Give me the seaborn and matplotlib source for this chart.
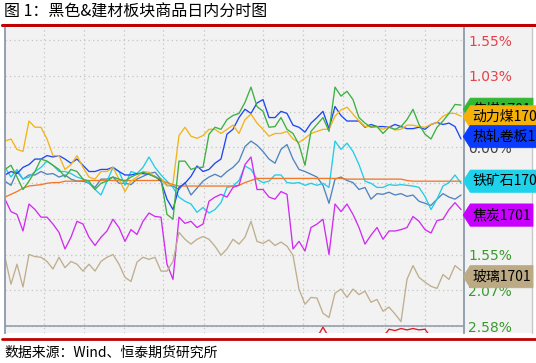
import matplotlib
matplotlib.use("Agg")
import numpy as np
import pandas as pd
import matplotlib.pyplot as plt
import seaborn as sns
from matplotlib.path import Path
from matplotlib.patches import Rectangle
from matplotlib.lines import Line2D

sns.set_style("white")
plt.rcParams['font.family'] = ['Noto Sans CJK SC', 'DejaVu Sans']

# intraday change in %, sampled at even time steps across the session
jiaomei = [-0.32, -0.26, -0.43, -0.61, -0.49, -0.35, -0.17, -0.20, -0.26, -0.32, -0.43,
           -0.32, -0.35, -0.46, -0.49, -0.61, -0.52, -0.49, -0.43, -0.46, -0.49, -0.43,
           -0.39, -0.36, -0.39, -0.43, -0.46, -0.97, -1.04, -0.20, -0.20, -0.32, -0.29,
           -0.29, 0.19, 0.29, 0.26, 0.40, 0.46, 0.49, 0.65, 0.87, 0.59, 0.52,
           0.29, 0.30, 0.43, 0.26, 0.20, 0.04, -0.26, 0.23, 0.33, 0.43, 0.23,
           0.87, 0.74, 0.81, 0.69, 0.43, 0.35, 0.29, 0.30, 0.20, 0.29, 0.26,
           0.30, 0.40, 0.55, 0.33, 0.19, 0.12, 0.29, 0.38, 0.49, 0.62, 0.61]
donglimei = [0.09, 0.12, -0.03, -0.06, 0.38, 0.29, 0.29, 0.12, -0.12, -0.12, -0.32,
             -0.25, -0.12, -0.29, -0.43, -0.46, -0.35, -0.35, -0.29, -0.46, -0.64, -0.49,
             -0.43, -0.35, -0.36, -0.43, -0.46, -0.56, -0.52, 0.17, 0.29, 0.16, 0.13,
             0.17, 0.26, 0.26, 0.20, 0.26, 0.32, 0.20, 0.40, 0.48, 0.35, 0.26,
             0.16, 0.20, 0.20, 0.23, 0.12, 0.07, 0.13, 0.20, 0.23, 0.26, 0.26,
             0.45, 0.54, 0.58, 0.48, 0.38, 0.30, 0.30, 0.30, 0.26, 0.30, 0.25,
             0.26, 0.32, 0.32, 0.30, 0.29, 0.33, 0.36, 0.45, 0.49, 0.49, 0.45]
rezha = [-0.40, -0.35, -0.38, -0.29, -0.25, -0.17, -0.17, -0.12, -0.14, -0.12, -0.17,
         -0.23, -0.17, -0.26, -0.35, -0.35, -0.32, -0.32, -0.29, -0.35, -0.40, -0.40,
         -0.38, -0.38, -0.39, -0.42, -0.49, -0.75, -0.90, -0.58, -0.52, -0.42, -0.27,
         -0.35, -0.32, -0.23, -0.17, 0.19, 0.26, 0.43, 0.55, 0.49, 0.64, 0.69,
         0.43, 0.43, 0.52, 0.49, 0.32, 0.29, 0.22, 0.35, 0.43, 0.52, 0.27,
         0.59, 0.46, 0.38, 0.38, 0.38, 0.29, 0.33, 0.30, 0.30, 0.29, 0.33,
         0.30, 0.27, 0.27, 0.29, 0.26, 0.33, 0.36, 0.33, 0.35, 0.30, 0.12]
tiekuang = [-0.29, -0.43, -0.32, -0.46, -0.43, -0.35, -0.29, -0.20, -0.26, -0.35, -0.35,
            -0.38, -0.43, -0.46, -0.52, -0.61, -0.69, -0.49, -0.29, -0.35, -0.55, -0.35,
            -0.38, -0.29, -0.14, -0.29, -0.40, -0.49, -0.58, -0.72, -0.78, -0.82, -0.94,
            -0.87, -0.95, -0.90, -0.80, -0.58, -0.56, -0.48, -0.27, -0.32, -0.46, -0.51,
            -0.49, -0.40, -0.40, -0.51, -0.52, -0.51, -0.55, -0.52, -0.55, -0.52, -0.58,
            0.09, -0.03, 0.06, -0.06, -0.25, -0.49, -0.52, -0.58, -0.58, -0.54, -0.55,
            -0.54, -0.55, -0.56, -0.58, -0.71, -0.90, -0.75, -0.56, -0.51, -0.40, -0.52]
jiaotan = [-0.75, -0.93, -0.97, -1.21, -0.82, -0.90, -1.01, -1.01, -1.11, -1.23, -1.47,
           -1.30, -1.07, -1.11, -1.30, -1.42, -1.30, -1.21, -1.04, -1.16, -1.36, -1.19,
           -1.26, -1.07, -0.95, -1.00, -1.01, -1.69, -1.91, -1.01, -1.10, -1.07, -1.16,
           -1.11, -0.78, -0.72, -0.68, -0.72, -0.58, -0.55, -0.25, -0.14, -0.61, -0.61,
           -0.72, -0.75, -0.64, -0.68, -1.47, -1.36, -1.50, -1.16, -1.11, -1.04, -1.55,
           -0.82, -0.93, -0.82, -0.97, -1.16, -1.40, -1.27, -1.16, -1.33, -1.21, -1.21,
           -1.19, -1.16, -1.00, -1.07, -1.19, -1.24, -1.06, -1.04, -0.90, -0.80, -0.90]
boli = [-1.59, -1.98, -1.69, -2.02, -1.55, -1.58, -1.59, -1.65, -1.76, -1.59, -1.74,
        -1.65, -1.69, -1.79, -1.69, -1.79, -1.65, -1.59, -1.55, -1.69, -1.88, -1.94,
        -1.66, -1.59, -1.62, -1.59, -1.79, -1.79, -1.65, -1.23, -1.33, -1.40, -1.33,
        -1.29, -1.33, -1.43, -1.56, -1.47, -1.33, -1.40, -1.30, -1.07, -1.36, -1.39,
        -1.34, -1.42, -1.37, -1.43, -1.56, -2.05, -2.27, -2.17, -2.18, -2.40, -2.46,
        -2.11, -2.05, -2.17, -2.05, -2.13, -2.08, -2.24, -2.20, -2.37, -2.31, -2.41,
        -2.52, -1.91, -1.71, -1.88, -1.95, -2.01, -2.04, -1.84, -1.91, -1.71, -1.78]
luowen = [-0.49, -0.55, -0.35, -0.46, -0.40, -0.40, -0.35, -0.39, -0.38, -0.43, -0.40,
          -0.46, -0.49, -0.49, -0.52, -0.58, -0.46, -0.46, -0.43, -0.52, -0.52, -0.54,
          -0.46, -0.42, -0.38, -0.36, -0.46, -0.55, -0.56, -0.61, -0.51, -0.69, -0.59,
          -0.49, -0.43, -0.39, -0.43, -0.35, -0.29, -0.20, 0.01, 0.09, 0.03, -0.06,
          -0.17, -0.23, -0.03, 0.04, -0.17, -0.32, -0.35, -0.39, -0.43, -0.55, -0.81,
          -0.46, -0.43, -0.48, -0.51, -0.61, -0.58, -0.75, -0.67, -0.68, -0.65, -0.69,
          -0.67, -0.71, -0.69, -0.78, -0.81, -0.84, -0.75, -0.67, -0.72, -0.75, -0.69]
junxian = [-0.72, -0.68, -0.64, -0.59, -0.56, -0.55, -0.54, -0.52, -0.51, -0.51, -0.49,
           -0.49, -0.49, -0.48, -0.48, -0.48, -0.48, -0.48, -0.48, -0.48, -0.48, -0.48,
           -0.48, -0.48, -0.48, -0.48, -0.48, -0.51, -0.54, -0.56, -0.56, -0.56, -0.56,
           -0.56, -0.56, -0.56, -0.56, -0.56, -0.56, -0.55, -0.51, -0.48, -0.45, -0.45,
           -0.45, -0.45, -0.45, -0.45, -0.45, -0.45, -0.45, -0.45, -0.45, -0.45, -0.45,
           -0.45, -0.45, -0.46, -0.46, -0.46, -0.46, -0.46, -0.46, -0.46, -0.46, -0.46,
           -0.46, -0.48, -0.49, -0.49, -0.49, -0.49, -0.49, -0.49, -0.49, -0.49, -0.49]
nan = np.nan
hongxian = [nan, nan, nan, nan, nan, nan, nan, nan, nan, nan, nan,
            nan, nan, nan, nan, nan, nan, nan, nan, nan, nan, nan,
            nan, nan, nan, nan, nan, nan, nan, nan, nan, nan, nan,
            nan, nan, nan, nan, nan, nan, nan, nan, nan, nan, nan,
            nan, nan, nan, nan, nan, nan, nan, nan, -2.75, -2.60, -2.75,
            nan, nan, nan, nan, nan, nan, nan, nan, -2.75, -2.63, -2.65,
            -2.62, -2.64, -2.62, -2.64, -2.63, -2.75, nan, nan, nan, nan, nan]

names = ['螺纹钢1701', '铁矿石1701', '均价', '焦炭1701', '玻璃1701', '热轧卷板1701', '动力煤1701', '焦煤1701']
series = [luowen, tiekuang, junxian, jiaotan, boli, rezha, donglimei, jiaomei]
colors = ['#4F84BE', '#22CCE8', '#F07A2A', '#D02CF0', '#BFAE8E', '#1E48F2', '#F2B418', '#3DB040']

tag_names = ['焦煤1701', '动力煤1701', '热轧卷板1701', '铁矿石1701', '焦炭1701', '玻璃1701']
tag_colors = ['#34B834', '#F5B00A', '#0A3CFF', '#1ED2EA', '#C800FF', '#BCAA84']
tag_pos = [0.55, 0.44, 0.155, -0.49, -0.98, -1.87]

grid_vals = [1.551, 1.034, 0.517, 0.0, -0.517, -1.034, -1.551, -2.068, -2.585]
grid_text = ['1.55%', '1.03%', '0.52%', '0.00%', '0.52%', '1.03%', '1.55%', '2.07%', '2.58%']
grid_colors = ['#E8404A', '#E8404A', '#E8404A', '#404040', '#3A9A2E', '#3A9A2E', '#3A9A2E', '#3A9A2E', '#3A9A2E']
time_grid = [6.5, 13.17, 19.83, 26.33, 33.17, 43.0, 49.67, 56.33, 63.33, 70.0]

t = np.arange(len(jiaomei))
df = pd.DataFrame({
    't': np.tile(t, len(series)),
    'chg': np.concatenate(series),
    'name': np.repeat(names, len(t)),
})

W, H = 536, 363
fig = plt.figure(figsize=(W / 100, H / 100), dpi=100)
fig.patch.set_facecolor('white')
ax = fig.add_axes([4.5 / W, 1 - 333 / H, (464 - 4.5) / W, (333 - 28) / H])
ax.set_facecolor('#F2F2F2')

sns.lineplot(data=df, x='t', y='chg', hue='name', hue_order=names,
             palette=dict(zip(names, colors)), estimator=None, sort=False,
             linewidth=0.95, legend=False, ax=ax)
ax.plot(t, hongxian, color='#E01A28', lw=0.95)

ax.set_xlim(-0.08, 76.5)
ax.set_ylim(-2.685, 1.725)
ax.set_xlabel('')
ax.set_ylabel('')

ax.set_xticks(time_grid)
ax.set_xticklabels([])
ax.yaxis.tick_right()
ax.set_yticks(grid_vals)
ax.set_yticklabels(grid_text)
for lbl, c in zip(ax.get_yticklabels(), grid_colors):
    lbl.set_color(c)
    lbl.set_fontfamily('DejaVu Sans')
ax.tick_params(axis='y', length=0, pad=3, labelsize=10)
ax.tick_params(axis='x', length=0)
ax.grid(True, ls=(0, (1, 2.5)), color='#C4C4C4', lw=0.9)
ax.axhline(-2.585, color='#8C9AAC', lw=1.1, zorder=1.5)

for s in ['top', 'bottom']:
    ax.spines[s].set_visible(False)
for s in ['left', 'right']:
    ax.spines[s].set_color('#8C9AAC')
    ax.spines[s].set_linewidth(1.3)


def tag_box(x0, y0, width, height, mutation_size):
    # flag shaped tag: flat body, short point on the left
    padx = 0.15 * mutation_size
    pady = 0.3 * mutation_size
    x0, y0 = x0 - padx, y0 - pady
    width, height = width + 2 * padx, height + 2 * pady
    tip = 0.32 * height
    verts = [(x0, y0), (x0 + width, y0), (x0 + width, y0 + height),
             (x0, y0 + height), (x0 - tip, y0 + height / 2), (x0, y0)]
    return Path(verts, closed=True)


for i, (name, c, y) in enumerate(zip(tag_names, tag_colors, tag_pos)):
    ax.annotate(name, xy=(1, y), xycoords=ax.get_yaxis_transform(),
                xytext=(6, 0), textcoords='offset points', ha='left', va='center',
                fontsize=10, color='black', annotation_clip=False, zorder=6 + i,
                bbox=dict(boxstyle=tag_box, fc=c, ec=c, lw=0.5))

# right label panel and frame
fig.add_artist(Rectangle((464 / W, 1 - 333 / H), (532 - 464) / W, (333 - 28) / H,
                         transform=fig.transFigure, fc='#F2F2F2', ec='none', zorder=-1))
fig.add_artist(Line2D([532 / W, 532 / W], [1 - 333 / H, 1 - 28 / H],
                      transform=fig.transFigure, color='#C8C8C8', lw=1, zorder=-1))

# title, rules, source
fig.add_artist(Line2D([2 / W, 1], [1 - 25 / H, 1 - 25 / H], transform=fig.transFigure,
                      color='#C00000', lw=2.2))
fig.add_artist(Line2D([2 / W, 1], [1 - 338.5 / H, 1 - 338.5 / H], transform=fig.transFigure,
                      color='#C00000', lw=2.0))
fig.text(4 / W, 1 - 12 / H, '图 1：黑色&建材板块商品日内分时图', fontsize=11.5,
         va='center', ha='left', color='black')
fig.text(4 / W, 1 - 353 / H, '数据来源：Wind、恒泰期货研究所', fontsize=10,
         va='center', ha='left', color='black')

fig.savefig('out.png', dpi=100)
